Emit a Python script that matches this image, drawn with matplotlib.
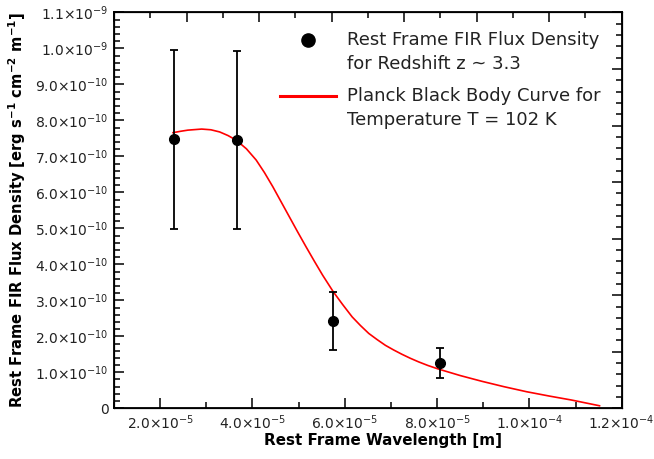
"""
Rest-frame FIR flux density with a black body curve (T = 102 K) overlay.
Writes out.png (654x459 px).
"""
import matplotlib
matplotlib.use("Agg")
import matplotlib.pyplot as plt
from matplotlib.lines import Line2D
from matplotlib.legend_handler import HandlerLine2D
from matplotlib.transforms import Affine2D
from matplotlib.ticker import MultipleLocator, FixedLocator

# --------------------------------------------------------------------------
# Data
# --------------------------------------------------------------------------
obs_wavelength = [2.29e-5, 3.67e-5, 5.75e-5, 8.07e-5]          # m
obs_flux = [7.47e-10, 7.45e-10, 2.42e-10, 1.25e-10]            # erg s-1 cm-2 m-1
obs_err = [2.50e-10, 2.47e-10, 0.80e-10, 0.42e-10]

bb_wavelength = [2.28e-5, 2.45e-5, 2.60e-5, 2.90e-5, 3.10e-5, 3.29e-5, 3.47e-5,
                 3.65e-5, 3.87e-5, 4.08e-5, 4.26e-5, 4.44e-5, 4.62e-5, 4.80e-5,
                 4.98e-5, 5.16e-5, 5.34e-5, 5.52e-5, 5.75e-5, 5.95e-5, 6.16e-5,
                 6.34e-5, 6.52e-5, 6.70e-5, 6.88e-5, 7.06e-5, 7.24e-5, 7.42e-5,
                 7.60e-5, 7.80e-5, 8.03e-5, 8.50e-5, 8.97e-5, 9.45e-5, 9.94e-5,
                 1.043e-4, 1.091e-4, 1.152e-4]
bb_flux = [7.66e-10, 7.70e-10, 7.73e-10, 7.76e-10, 7.74e-10, 7.68e-10, 7.58e-10,
           7.45e-10, 7.21e-10, 6.90e-10, 6.55e-10, 6.16e-10, 5.74e-10, 5.32e-10,
           4.90e-10, 4.49e-10, 4.09e-10, 3.70e-10, 3.24e-10, 2.89e-10, 2.54e-10,
           2.30e-10, 2.08e-10, 1.91e-10, 1.75e-10, 1.62e-10, 1.50e-10, 1.39e-10,
           1.29e-10, 1.19e-10, 1.09e-10, 0.91e-10, 0.75e-10, 0.60e-10, 0.46e-10,
           0.34e-10, 0.23e-10, 0.07e-10]

x_ticks = [2e-5, 4e-5, 6e-5, 8e-5, 1e-4, 1.2e-4]
x_ticklabels = [r"$2.0{\times}10^{-5}$", r"$4.0{\times}10^{-5}$", r"$6.0{\times}10^{-5}$",
                r"$8.0{\times}10^{-5}$", r"$1.0{\times}10^{-4}$", r"$1.2{\times}10^{-4}$"]
y_ticks = [i * 1e-10 for i in range(12)]
y_ticklabels = ["0"] + [rf"${i}.0{{\times}}10^{{-10}}$" for i in range(1, 10)] + \
               [r"$1.0{\times}10^{-9}$", r"$1.1{\times}10^{-9}$"]

LABEL_OBS = "Rest Frame FIR Flux Density\nfor Redshift z ~ 3.3"
LABEL_BB = "Planck Black Body Curve for\nTemperature T = 102 K"


class FirstLineHandler(HandlerLine2D):
    """Legend handle aligned with the first line of a two-line label."""
    SHIFT_PT = 9.0

    def create_artists(self, legend, orig_handle, xdescent, ydescent,
                       width, height, fontsize, trans):
        trans = Affine2D().translate(0, self.SHIFT_PT) + trans
        return super().create_artists(legend, orig_handle, xdescent, ydescent,
                                      width, height, fontsize, trans)


# --------------------------------------------------------------------------
# Plot
# --------------------------------------------------------------------------
fig = plt.figure(figsize=(6.54, 4.59), dpi=100)
ax = fig.add_axes([0.1743, 0.1105, 0.7763, 0.8623])

ax.plot(bb_wavelength, bb_flux, color="#ff0000", linewidth=1.2, zorder=2)
ax.errorbar(obs_wavelength, obs_flux, yerr=obs_err, fmt="o", color="black",
            markersize=7, capsize=3.2, elinewidth=1.3, capthick=1.3, zorder=3)

ax.set_xlim(1e-5, 1.2e-4)
ax.set_ylim(0, 1.1e-9)
ax.xaxis.set_major_locator(FixedLocator(x_ticks))
ax.set_xticklabels(x_ticklabels)
ax.xaxis.set_minor_locator(MultipleLocator(1e-5))
ax.yaxis.set_major_locator(FixedLocator(y_ticks))
ax.set_yticklabels(y_ticklabels)
ax.yaxis.set_minor_locator(MultipleLocator(2e-11))
ax.tick_params(which="both", direction="in", top=False, right=False,
               width=1.1, labelsize=10, colors="black", labelcolor="#222222")
ax.tick_params(which="major", length=7, pad=4)
ax.tick_params(which="minor", length=4)

ax.set_xlabel("Rest Frame Wavelength [m]", fontsize=10.9, fontweight="bold")
ax.xaxis.set_label_coords(0.53, -0.063)
ax.set_ylabel(r"Rest Frame FIR Flux Density [erg s$^{\mathbf{-1}}$ "
              r"cm$^{\mathbf{-2}}$ m$^{\mathbf{-1}}$]",
              fontsize=10.6, fontweight="bold", labelpad=5)
for spine in ax.spines.values():
    spine.set_linewidth(1.3)

# frame ticks on top and right (unlabelled, own spacing)
axt = ax.twiny()
axt.set_xlim(0, 7)
axt.xaxis.set_major_locator(MultipleLocator(1))
axt.xaxis.set_minor_locator(MultipleLocator(0.5))
axt.tick_params(axis="x", which="both", direction="in", labeltop=False, width=1.1)
axt.tick_params(axis="x", which="major", length=7)
axt.tick_params(axis="x", which="minor", length=4)

axr = ax.twinx()
axr.set_ylim(0, 7)
axr.yaxis.set_major_locator(MultipleLocator(1))
axr.yaxis.set_minor_locator(MultipleLocator(0.2))
axr.tick_params(axis="y", which="both", direction="in", labelright=False, width=1.1)
axr.tick_params(axis="y", which="major", length=7)
axr.tick_params(axis="y", which="minor", length=4)

handles = [
    Line2D([], [], linestyle="none", marker="o", color="black", markersize=9.5),
    Line2D([], [], color="#ff0000", linewidth=2.2),
]
leg = ax.legend(handles, [LABEL_OBS, LABEL_BB], loc="upper left",
                bbox_to_anchor=(280 / 654, 1 - 31 / 459),
                bbox_transform=fig.transFigure, frameon=False, fontsize=13,
                handlelength=3.1, handletextpad=0.6, borderpad=0,
                borderaxespad=0, labelspacing=0.75,
                handler_map={Line2D: FirstLineHandler()})
for t in leg.get_texts():
    t.set_linespacing(1.43)
    t.set_color("#222222")

fig.savefig("out.png", dpi=100)
